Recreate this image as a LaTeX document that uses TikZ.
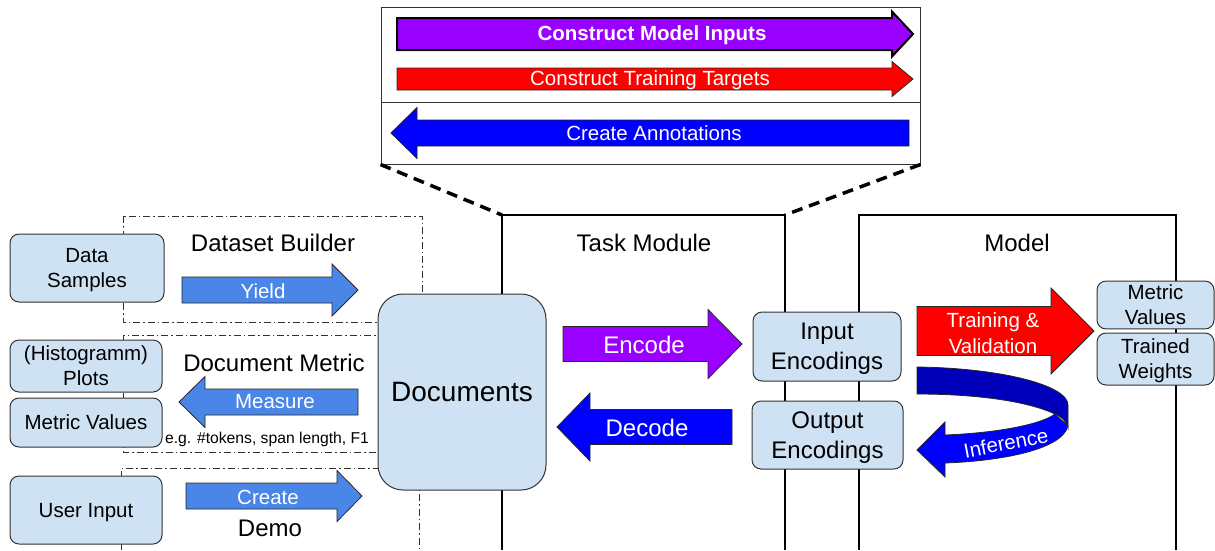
\documentclass[tikz,border=0pt]{standalone}
\usepackage{fontspec}
\setmainfont{Liberation Sans}
\definecolor{boxfill}{HTML}{CFE2F3}
\definecolor{boxline}{HTML}{333333}
\definecolor{cblue}{HTML}{4A86E8}
\definecolor{purp}{HTML}{9900FF}
\definecolor{pureblue}{HTML}{0000FF}
\definecolor{darkblue}{HTML}{0000BB}
\definecolor{pured}{HTML}{FF0000}
\newcommand{\fsz}[2]{\fontsize{#1pt}{#2pt}\selectfont}
\newcommand{\ls}{\rule[-0.212em]{0pt}{1.117em}}
% style, x-start, x-headbase, x-tip, y-centre, body half height, head half height
\newcommand{\blockarrow}[7]{\filldraw[#1] (#2,{#5-#6}) -- (#3,{#5-#6}) -- (#3,{#5-#7}) -- (#4,#5) -- (#3,{#5+#7}) -- (#3,{#5+#6}) -- (#2,{#5+#6}) -- cycle;}
\begin{document}
\begin{tikzpicture}[x=1pt,y=-1pt,
  box/.style={draw=boxline, fill=boxfill, rounded corners=9pt, line width=1pt, inner sep=0pt, align=center, font=\fsz{20.5}{25}},
  bigbox/.style={box, font=\fsz{24}{30}},
  title/.style={inner sep=0pt, font=\fsz{24}{29}},
  alabel/.style={inner sep=0pt, text=white, font=\fsz{20.5}{26}, align=center},
  blabel/.style={inner sep=0pt, text=white, font=\fsz{24}{29}},
  container/.style={draw=black, line width=1.2pt},
  dashdotbox/.style={draw=boxline, line width=0.9pt, dash pattern=on 7pt off 3pt on 1.5pt off 3pt},
  zoomline/.style={draw=black, line width=3.5pt, dash pattern=on 11pt off 7pt},
  arr/.style={draw=black!85, line width=0.8pt}
]
\useasboundingbox (0,0) rectangle (1215,550);

% containers
\coordinate (tmnw) at (502,215);
\coordinate (tmne) at (785,215);
\draw[container] (502,550) -- (tmnw) -- (tmne) -- (785,550);
\draw[container] (859,550) -- (859,215) -- (1176,215) -- (1176,550);
\node[title] (tmlabel) at (644,243) {Task Module};
\node[title] (mlabel) at (1017,243) {Model};

% dash-dot groups
\draw[dashdotbox] (123,216) rectangle (422,322);
\draw[dashdotbox] (123,335) rectangle (420,452);
\draw[dashdotbox] (121,550) -- (121,468) -- (419,468) -- (419,550);
\node[title] (dblabel) at (273,243) {Dataset Builder};
\node[title] (dmlabel) at (274,363) {Document Metric};
\node[title] (demolabel) at (270,528) {Demo};
\node[inner sep=0pt, font=\fsz{15.7}{18}] (eglabel) at (267,439) {e.g. \#tokens, span length, F1};

% zoom box
\node[draw=boxline, line width=1pt, minimum width=539pt, minimum height=157pt, inner sep=0pt] (zoombox) at (650.5,85.5) {};
\draw[boxline, line width=1pt] (381,102) -- (920,102);
\draw[zoomline] (zoombox.south west) -- (tmnw);
\draw[zoomline] (zoombox.south east) -- (tmne);
\blockarrow{fill=purp, draw=black, line width=2pt}{397}{892}{913}{34}{16}{22.5}
\blockarrow{fill=pured, arr}{397}{892}{913}{79}{11}{17.5}
\blockarrow{fill=pureblue, arr}{909}{417}{391}{133}{13}{25.5}
\node[alabel, font=\bfseries\fsz{20.5}{25}] (cmi) at (652,35) {Construct Model Inputs};
\node[alabel] (ctt) at (650,80) {Construct Training Targets};
\node[alabel] (cra) at (654,133) {Create Annotations};

% left boxes
\node[box, minimum width=154pt, minimum height=68pt] (samples) at (87,268) {Data\ls\\Samples\ls};
\node[box, minimum width=152pt, minimum height=52pt] (plots) at (86,366) {(Histogramm)\ls\\Plots\ls};
\node[box, minimum width=152pt, minimum height=49pt] (metl) at (86,422.5) {Metric Values\ls};
\node[box, minimum width=152pt, minimum height=68pt] (user) at (86,510) {User Input\ls};

% left arrows
\blockarrow{fill=cblue, arr}{182}{332}{358}{290}{13}{26}
\blockarrow{fill=cblue, arr}{358}{205}{179}{402}{13}{25.5}
\blockarrow{fill=cblue, arr}{186}{337}{362}{496}{13}{25.5}
\node[alabel] (yield) at (263,291) {Yield};
\node[alabel] (measure) at (275,402) {Measure};
\node[alabel] (create) at (268,497) {Create};

% documents
\node[box, rounded corners=25pt, minimum width=168pt, minimum height=196pt, font=\fsz{28}{32}] (docs) at (462,392) {Documents\ls};

% encode / decode
\blockarrow{fill=purp, arr}{563}{708}{742}{344}{17.5}{34.5}
\blockarrow{fill=pureblue, arr}{732}{590}{557}{427}{17.5}{34}
\node[blabel] (encode) at (644,345) {Encode};
\node[blabel] (decode) at (647,428) {Decode};

% encodings
\node[bigbox, minimum width=148pt, minimum height=69pt] (inenc) at (827,346.5) {Input\ls\\Encodings\ls};
\node[bigbox, minimum width=151pt, minimum height=68pt] (outenc) at (827.5,435) {Output\ls\\Encodings\ls};

% training arrow
\blockarrow{fill=pured, arr}{917}{1051}{1094}{331}{24.5}{43}
\node[alabel, font=\fsz{20.5}{26}] (train) at (993,333) {Training \&\ls\\Validation\ls};

% inference ribbon
\filldraw[fill=darkblue, arr] (917,367) .. controls (1000,368) and (1068,385) .. (1068,405) -- (1068,428)
   .. controls (1066,420) and (1060,416) .. (1055,414)
   .. controls (1020,398) and (960,394) .. (917,394) -- cycle;
\filldraw[fill=pureblue, arr] (1068,426) .. controls (1062,450) and (1000,461) .. (945,463) -- (945,477) -- (917,450) -- (945,422) -- (945,435)
   .. controls (995,433) and (1040,425) .. (1055,414) -- cycle;
\node[alabel, rotate=11] (inference) at (1006,443) {Inference};

% right boxes
\node[box, minimum width=117pt, minimum height=46pt] (metr) at (1155.5,305) {Metric\ls\\Values\ls};
\node[box, minimum width=117pt, minimum height=52pt] (weights) at (1155.5,359) {Trained\ls\\Weights\ls};
\end{tikzpicture}
\end{document}
